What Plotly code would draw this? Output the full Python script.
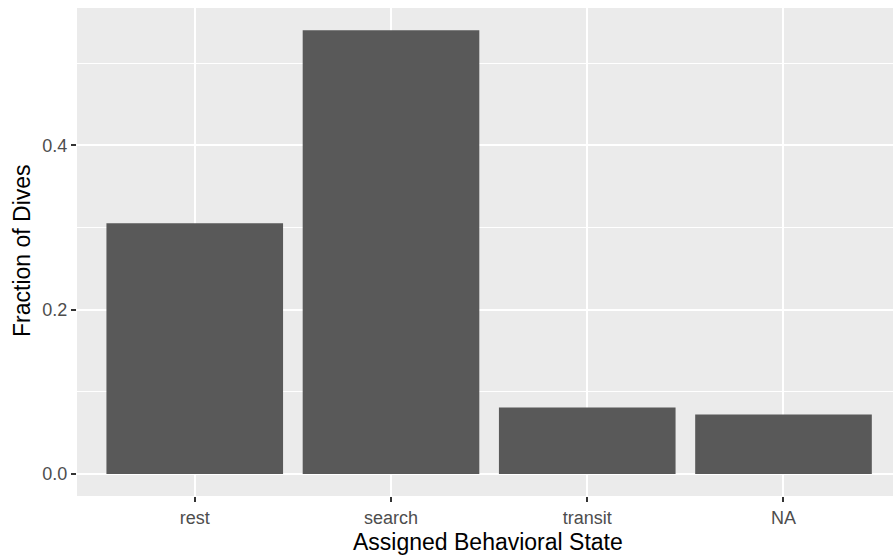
import plotly.graph_objects as go

categories = ["rest", "search", "transit", "NA"]
fractions = [0.305, 0.540, 0.081, 0.0723]
y_tick_vals = [0.0, 0.2, 0.4]
y_tick_text = ["0.0", "0.2", "0.4"]
y_minor_vals = [0.1, 0.3, 0.5]

fig = go.Figure(
    go.Bar(
        x=categories,
        y=fractions,
        width=0.9,
        marker=dict(color="#595959", line=dict(width=0)),
        hoverinfo="x+y",
    )
)

font_family = "Liberation Sans, Arial, sans-serif"

fig.update_layout(
    width=893,
    height=559,
    margin=dict(l=77, r=0, t=8, b=63),
    paper_bgcolor="white",
    plot_bgcolor="#EBEBEB",
    showlegend=False,
    font=dict(family=font_family, color="#4D4D4D", size=18),
    bargap=0.1,
)

fig.update_xaxes(
    type="category",
    range=[-0.6, 3.558],
    showgrid=True,
    gridcolor="white",
    gridwidth=2,
    ticks="outside",
    ticklen=5,
    tickwidth=1.5,
    tickcolor="#333333",
    tickfont=dict(size=18, color="#4D4D4D"),
    showline=False,
    zeroline=False,
    fixedrange=True,
)

fig.update_yaxes(
    range=[-0.0268, 0.567],
    tickvals=y_tick_vals,
    ticktext=y_tick_text,
    showgrid=True,
    gridcolor="white",
    gridwidth=2,
    minor=dict(tickvals=y_minor_vals, showgrid=True, gridcolor="white", gridwidth=1, ticks=""),
    ticks="outside",
    ticklen=5,
    tickwidth=1.5,
    tickcolor="#333333",
    tickfont=dict(size=18, color="#4D4D4D"),
    showline=False,
    zeroline=False,
    fixedrange=True,
)

fig.add_annotation(
    text="Assigned Behavioral State",
    xref="paper", yref="paper",
    x=(488 - 77) / 816, y=-(542 - 496) / 488,
    xanchor="center", yanchor="middle",
    showarrow=False,
    font=dict(size=23, color="black", family=font_family),
)
fig.add_annotation(
    text="Fraction of Dives",
    xref="paper", yref="paper",
    x=-(77 - 22) / 816, y=(496 - 251) / 488,
    xanchor="center", yanchor="middle",
    textangle=-90,
    showarrow=False,
    font=dict(size=23, color="black", family=font_family),
)

# remove the browser's default page margin so the figure fills the window
fig.write_html(
    "out.html",
    config={"displayModeBar": False},
    post_script="document.body.style.margin='0';document.body.style.overflow='hidden';",
)
